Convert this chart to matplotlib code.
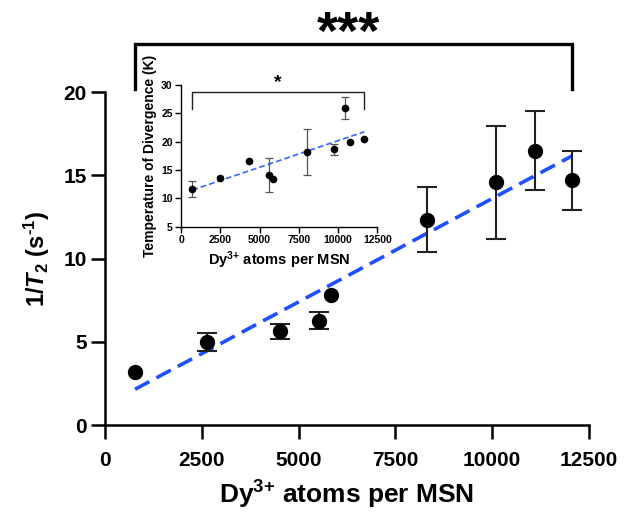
import matplotlib
matplotlib.use('Agg')
import matplotlib.pyplot as plt
import numpy as np

plt.rcParams['font.family'] = ['Liberation Sans', 'DejaVu Sans']
plt.rcParams['font.weight'] = 'bold'
plt.rcParams['mathtext.fontset'] = 'custom'
plt.rcParams['mathtext.rm'] = 'Liberation Sans:bold'
plt.rcParams['mathtext.bf'] = 'Liberation Sans:bold'
plt.rcParams['mathtext.it'] = 'Liberation Sans:bold:italic'
plt.rcParams['mathtext.bfit'] = 'Liberation Sans:bold:italic'

### Main panel data: 1/T2 vs Dy atoms per MSN
dy_main = [776, 2630, 4520, 5515, 5843, 8325, 10110, 11115, 12050]
r2_main = [3.2, 5.0, 5.65, 6.27, 7.8, 12.35, 14.58, 16.5, 14.7]
r2_err = [0.0, 0.55, 0.45, 0.5, 0.0, 1.97, 3.39, 2.4, 1.8]
fit_main = (0.001243, 1.185)  # slope, intercept

### Inset data: temperature of divergence
dy_inset = [720, 2484, 4331, 5605, 5880, 8025, 9766, 10446, 10764, 11675]
t_div = [11.65, 13.65, 16.6, 14.12, 13.47, 18.18, 18.66, 25.95, 19.94, 20.47]
t_err = [1.4, 0.0, 0.0, 3.0, 0.0, 4.0, 1.0, 2.0, 0.0, 0.0]
fit_inset = (0.000939, 10.79)


def with_err(x, y, e):
    # keep only points that actually have an error bar
    keep = [i for i in range(len(x)) if e[i] > 0]
    return [x[i] for i in keep], [y[i] for i in keep], [e[i] for i in keep]


fig = plt.figure(figsize=(6.38, 5.12), dpi=100)
ax = fig.add_axes([0.1646, 0.1699, 0.7586, 0.6498])

ex, ey, ee = with_err(dy_main, r2_main, r2_err)
ax.errorbar(ex, ey, yerr=ee, fmt='none', ecolor='#222222', elinewidth=1.5,
            capsize=7, capthick=1.5, zorder=3)
ax.plot(dy_main, r2_main, 'o', color='black', ms=10, zorder=4)
xf = np.array([dy_main[0], dy_main[-1]])
ax.plot(xf, fit_main[0] * xf + fit_main[1], color='#1f4fff', lw=2.6,
        dashes=(4.5, 2.2), zorder=2)

ax.set_xlim(0, 12500)
ax.set_ylim(0, 20)
ax.set_xticks([0, 2500, 5000, 7500, 10000, 12500])
ax.set_yticks([0, 5, 10, 15, 20])
for s in ['top', 'right']:
    ax.spines[s].set_visible(False)
for s in ['left', 'bottom']:
    ax.spines[s].set_linewidth(1.8)
ax.tick_params(axis='both', length=10, width=1.8, labelsize=15)
ax.tick_params(axis='x', pad=9)
ax.tick_params(axis='y', pad=3)
ax.set_xlabel(r'Dy$^{3\text{+}}$ atoms per MSN', fontsize=19, fontweight='bold', labelpad=6)
ax.set_ylabel(r'1/$\mathbfit{T}_2$ (s$^{\text{-}1}$)', fontsize=17, fontweight='bold', labelpad=8)

# significance bracket
bx = [dy_main[0], dy_main[0], dy_main[-1], dy_main[-1]]
by = [20.2, 22.9, 22.9, 20.2]
ax.plot(bx, by, color='black', lw=2.4, clip_on=False, solid_joinstyle='miter')
ax.text(6300, 22.6, '***', ha='center', va='baseline', fontsize=39, fontweight='bold')

### Inset
ins = fig.add_axes([0.2837, 0.5572, 0.3077, 0.2768])
ix, iy, ie = with_err(dy_inset, t_div, t_err)
ins.errorbar(ix, iy, yerr=ie, fmt='none', ecolor='#555555', elinewidth=0.9,
             capsize=3, capthick=0.9, zorder=3)
ins.plot(dy_inset, t_div, 'o', color='black', ms=4.5, zorder=4)
xi = np.array([dy_inset[0], dy_inset[-1]])
ins.plot(xi, fit_inset[0] * xi + fit_inset[1], color='#3366ff', lw=1.2,
         dashes=(3.5, 1.8), zorder=2)
ins.set_xlim(0, 12500)
ins.set_ylim(5, 30)
ins.set_xticks([0, 2500, 5000, 7500, 10000, 12500])
ins.set_yticks([5, 10, 15, 20, 25, 30])
for s in ['top', 'right']:
    ins.spines[s].set_visible(False)
for s in ['left', 'bottom']:
    ins.spines[s].set_linewidth(1.0)
ins.tick_params(axis='both', length=4, width=1.0, labelsize=7.5, pad=2)
ins.set_xlabel(r'Dy$^{3\text{+}}$ atoms per MSN', fontsize=10.5, fontweight='bold', labelpad=3)
ins.set_ylabel('Temperature of Divergence (K)', fontsize=10, fontweight='bold', labelpad=3)

ibx = [dy_inset[0], dy_inset[0], dy_inset[-1], dy_inset[-1]]
iby = [25.7, 28.7, 28.7, 25.7]
ins.plot(ibx, iby, color='#222222', lw=1.0, clip_on=False)
ins.text(6180, 28.9, '*', ha='center', va='bottom', fontsize=14, fontweight='bold')

fig.savefig('out.png', dpi=100)
